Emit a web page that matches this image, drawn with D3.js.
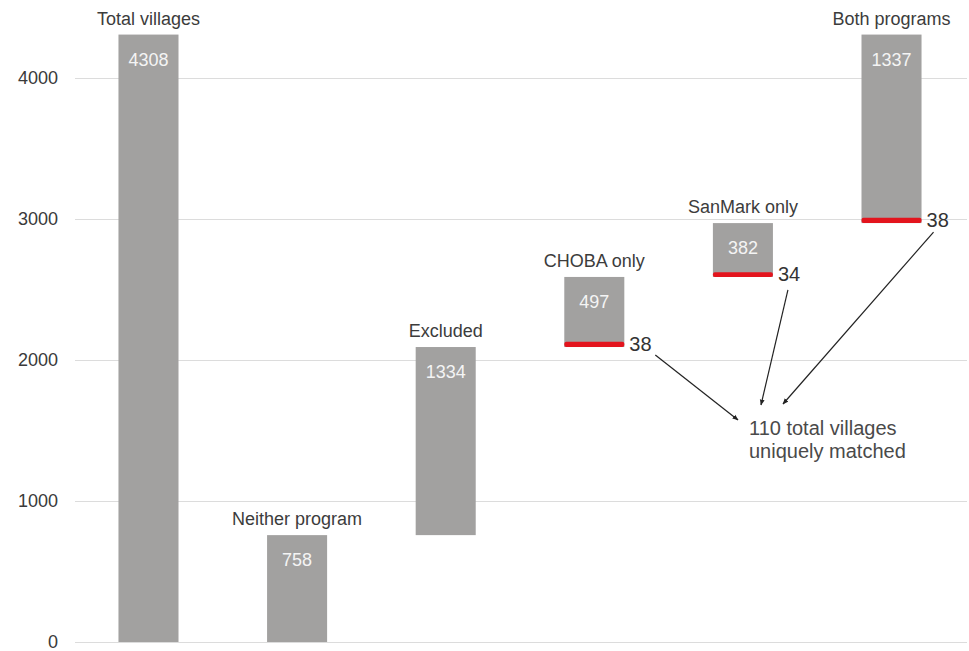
<!DOCTYPE html>
<html>
<head>
<meta charset="utf-8">
<script src="https://cdn.jsdelivr.net/npm/d3@7"></script>
<style>
body { margin: 0; background: #fff; }
svg { font-family: "Liberation Sans", Arial, Helvetica, sans-serif; }
.grid line { stroke: #dcdcdc; stroke-width: 1.2; }
.grid .domain { display: none; }
.axis text { fill: #3a3a3a; font-size: 18px; }
.axis .domain, .axis line { display: none; }
</style>
</head>
<body>
<svg id="chart" width="969" height="651"></svg>
<script>
var categories = ["Total villages", "Neither program", "Excluded", "CHOBA only", "SanMark only", "Both programs"];
var values = [4308, 758, 1334, 497, 382, 1337];
var matched = [null, null, null, 38, 34, 38];
var yTicks = [0, 1000, 2000, 3000, 4000];
var noteLines = ["110 total villages", "uniquely matched"];

var svg = d3.select("#chart");

// waterfall: first bar from 0, rest stack up
var bars = [];
var run = 0;
categories.forEach(function(c, i){
	var start = i === 0 ? 0 : run;
	var end = start + values[i];
	if (i > 0) run = end;
	bars.push({name: c, value: values[i], start: start, end: end, matched: matched[i]});
});

var x = d3.scaleBand()
	.domain(categories)
	.range([75, 965])
	.paddingInner(0.596)
	.paddingOuter(0.2925);

var y = d3.scaleLinear()
	.domain([0, 4000])
	.range([642, 78]);

// gridlines
svg.append("g")
	.attr("class", "grid")
	.attr("transform", "translate(75,0)")
	.call(d3.axisLeft(y).tickValues(yTicks).tickSize(-892).tickFormat(""));

// y labels
svg.append("g")
	.attr("class", "axis")
	.attr("transform", "translate(58,0)")
	.call(d3.axisLeft(y).tickValues(yTicks).tickSize(0).tickPadding(0).tickFormat(d3.format("d")));

// bars
svg.selectAll("rect.bar")
	.data(bars)
	.enter().append("rect")
	.attr("class", "bar")
	.attr("x", function(d){ return x(d.name); })
	.attr("width", x.bandwidth())
	.attr("y", function(d){ return y(d.end); })
	.attr("height", function(d){ return y(d.start) - y(d.end); })
	.attr("fill", "#a2a1a0");

// red matched segments
var red = bars.filter(function(d){ return d.matched != null; });
svg.selectAll("rect.match")
	.data(red)
	.enter().append("rect")
	.attr("class", "match")
	.attr("x", function(d){ return x(d.name); })
	.attr("width", x.bandwidth())
	.attr("y", function(d){ return y(d.start + d.matched); })
	.attr("height", function(d){ return y(d.start) - y(d.start + d.matched); })
	.attr("rx", 2)
	.attr("fill", "#e3141d");

// category labels
svg.selectAll("text.cat")
	.data(bars)
	.enter().append("text")
	.attr("class", "cat")
	.attr("x", function(d){ return x(d.name) + x.bandwidth() / 2; })
	.attr("y", function(d){ return y(d.end) - 10; })
	.attr("text-anchor", "middle")
	.attr("font-size", 18)
	.attr("fill", "#3c3c3c")
	.text(function(d){ return d.name; });

// value labels
svg.selectAll("text.val")
	.data(bars)
	.enter().append("text")
	.attr("class", "val")
	.attr("x", function(d){ return x(d.name) + x.bandwidth() / 2; })
	.attr("y", function(d){ return y(d.end) + 31; })
	.attr("text-anchor", "middle")
	.attr("font-size", 18)
	.attr("fill", "#f4f4f4")
	.text(function(d){ return d.value; });

// matched labels
svg.selectAll("text.m")
	.data(red)
	.enter().append("text")
	.attr("class", "m")
	.attr("x", function(d){ return x(d.name) + x.bandwidth() + 5; })
	.attr("y", function(d){ return y(d.start) + 4; })
	.attr("font-size", 20)
	.attr("fill", "#333")
	.text(function(d){ return d.matched; });

// note
var noteX = 749, noteY = 435;
svg.append("text")
	.attr("x", noteX).attr("y", noteY)
	.attr("font-size", 20)
	.attr("fill", "#4a4a4a")
	.selectAll("tspan")
	.data(noteLines)
	.enter().append("tspan")
	.attr("x", noteX)
	.attr("dy", function(d, i){ return i === 0 ? 0 : 23; })
	.text(function(d){ return d; });

// arrows
svg.append("defs").append("marker")
	.attr("id", "head")
	.attr("viewBox", "0 0 10 10")
	.attr("refX", 9).attr("refY", 5)
	.attr("markerWidth", 5).attr("markerHeight", 5)
	.attr("orient", "auto")
	.append("path")
	.attr("d", "M0,1 L10,5 L0,9 Z")
	.attr("fill", "#222");

// arrow start offsets from each bar's lower right corner, ends near the note
var starts = [[31, 8], [15, 13], [12, 9]];
var ends = [[noteX - 11, noteY - 15], [noteX + 12, noteY - 30], [noteX + 34, noteY - 31]];
red.forEach(function(d, i){
	var sx = x(d.name) + x.bandwidth() + starts[i][0];
	var sy = y(d.start) + starts[i][1];
	svg.append("line")
		.attr("x1", sx).attr("y1", sy)
		.attr("x2", ends[i][0]).attr("y2", ends[i][1])
		.attr("stroke", "#222")
		.attr("stroke-width", 1.2)
		.attr("marker-end", "url(#head)");
});
</script>
</body>
</html>
